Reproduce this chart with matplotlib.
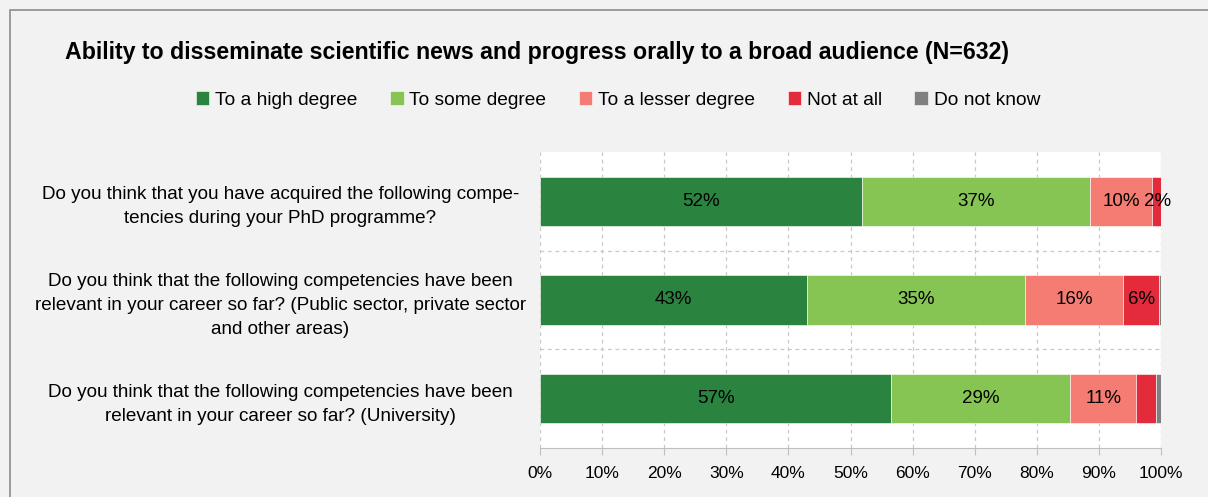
import matplotlib.pyplot as plt
import numpy as np

questions = [
    "Do you think that you have acquired the following compe-\ntencies during your PhD programme?",
    "Do you think that the following competencies have been\nrelevant in your career so far? (Public sector, private sector\nand other areas)",
    "Do you think that the following competencies have been\nrelevant in your career so far? (University)",
]
categories = ["To a high degree", "To some degree", "To a lesser degree", "Not at all", "Do not know"]
high = [51.9, 43.0, 56.6]
some = [36.6, 35.1, 28.8]
lesser = [10.1, 15.8, 10.6]
not_at_all = [1.6, 5.8, 3.2]
dont_know = [0.0, 0.3, 0.8]
# value labels shown on the chart (None = no label)
labels = [
    ["52%", "43%", "57%"],
    ["37%", "35%", "29%"],
    ["10%", "16%", "11%"],
    ["2%", "6%", None],
    [None, None, None],
]
colors = ["#2a843f", "#86c553", "#f47c72", "#e32b3c", "#808080"]

plt.rcParams["font.family"] = ["Liberation Sans", "DejaVu Sans"]

fig = plt.figure(figsize=(12.08, 4.97), dpi=100, facecolor="#f2f2f2")
# chart frame
fig.add_artist(plt.Rectangle((10 / 1208, -0.1), 1.2, (487 + 50) / 497, transform=fig.transFigure,
                             fill=False, edgecolor="#8c8c8c", linewidth=1.2))

ax = fig.add_axes([540 / 1208, 1 - 448 / 497, 621 / 1208, 296 / 497])
ax.set_facecolor("white")

y = np.arange(len(questions))
series = [high, some, lesser, not_at_all, dont_know]
left = np.zeros(len(questions))
for vals, c, name, labs in zip(series, colors, categories, labels):
    vals = np.array(vals)
    ax.barh(y, vals, left=left, height=0.5, color=c, label=name, edgecolor="white", linewidth=0.4)
    for i, v in enumerate(vals):
        if labs[i]:
            ax.text(left[i] + v / 2, y[i], labs[i], ha="center", va="center", fontsize=13.5)
    left += vals

ax.set_xlim(0, 100)
ax.set_ylim(2.5, -0.5)
ax.set_xticks(np.arange(0, 101, 10))
ax.set_xticklabels([f"{t}%" for t in range(0, 101, 10)], fontsize=12.5)
ax.set_yticks(y)
ax.set_yticklabels(questions, fontsize=13.6, ha="center", linespacing=1.55)
ax.tick_params(axis="y", length=0, pad=187)
ax.tick_params(axis="x", length=5, color="#bfbfbf", pad=8)
ax.xaxis.grid(True, linestyle=(0, (3, 3)), color="#c8c8c8", linewidth=0.9)
ax.set_axisbelow(True)
ax.set_yticks([0.5, 1.5], minor=True)
ax.yaxis.grid(True, which="minor", linestyle=(0, (3, 3)), color="#c8c8c8", linewidth=0.9)
ax.tick_params(axis="y", which="minor", length=0)
for s in ["top", "right", "left"]:
    ax.spines[s].set_visible(False)
ax.spines["bottom"].set_color("#bfbfbf")

fig.text(65 / 1208, 1 - 53 / 497, "Ability to disseminate scientific news and progress orally to a broad audience (N=632)",
         fontsize=16.7, fontweight="bold", va="center", ha="left")
fig.legend(loc="center", bbox_to_anchor=(618 / 1208, 1 - 100 / 497), ncol=5, frameon=False,
           fontsize=13.8, handlelength=0.7, handleheight=0.7, handletextpad=0.3, columnspacing=1.7)

fig.savefig("out.png", dpi=100, facecolor=fig.get_facecolor())
